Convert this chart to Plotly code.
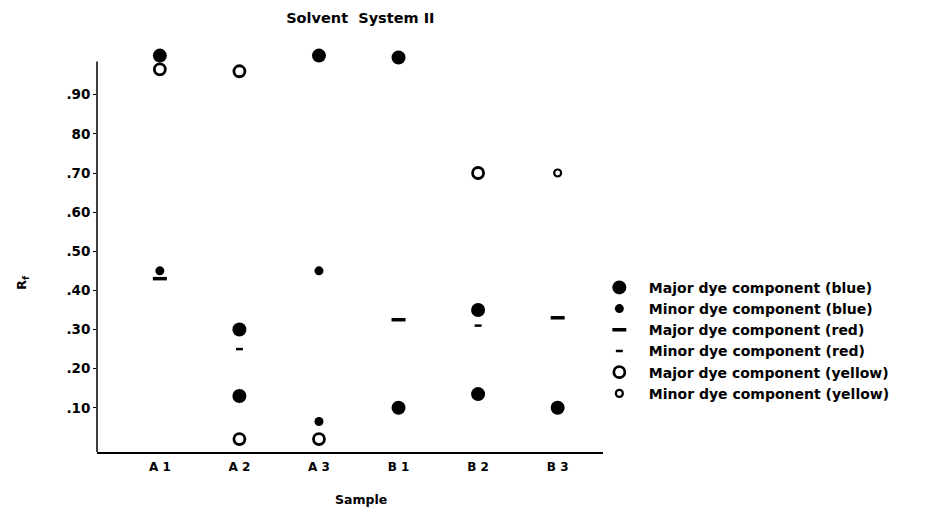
import plotly.graph_objects as go

samples = ["A1", "A2", "A3", "B1", "B2", "B3"]
sample_labels = ["A 1", "A 2", "A 3", "B 1", "B 2", "B 3"]

# Rf values per sample for each component type
major_blue_x = ["A1", "A2", "A2", "A3", "B1", "B1", "B2", "B2", "B3"]
major_blue_y = [1.00, 0.30, 0.13, 1.00, 0.995, 0.10, 0.35, 0.135, 0.10]

minor_blue_x = ["A1", "A3", "A3"]
minor_blue_y = [0.45, 0.45, 0.065]

major_red_x = ["A1", "B1", "B3"]
major_red_y = [0.43, 0.325, 0.33]

minor_red_x = ["A2", "B2"]
minor_red_y = [0.25, 0.31]

major_yellow_x = ["A1", "A2", "A2", "A3", "B2"]
major_yellow_y = [0.965, 0.96, 0.02, 0.02, 0.70]

minor_yellow_x = ["B3"]
minor_yellow_y = [0.70]

ytick_vals = [0.10, 0.20, 0.30, 0.40, 0.50, 0.60, 0.70, 0.80, 0.90]
ytick_text = [".10", ".20", ".30", ".40", ".50", ".60", ".70", "80", ".90"]

FONT = "DejaVu Sans"
BLACK = "black"

fig = go.Figure()

def add(name, xs, ys, symbol, size, line_w=0):
    fig.add_trace(go.Scatter(
        x=xs, y=ys, mode="markers", name="<b>%s</b>" % name, cliponaxis=False,
        marker=dict(symbol=symbol, size=size, color=BLACK,
                    line=dict(color=BLACK, width=line_w)),
    ))

add("Major dye component (blue)", major_blue_x, major_blue_y, "circle", 14)
add("Minor dye component (blue)", minor_blue_x, minor_blue_y, "circle", 9)
add("Major dye component (red)", major_red_x, major_red_y, "line-ew", 10, 3.5)
add("Minor dye component (red)", minor_red_x, minor_red_y, "line-ew", 5, 2.5)
add("Major dye component (yellow)", major_yellow_x, major_yellow_y, "circle-open", 11, 2.8)
add("Minor dye component (yellow)", minor_yellow_x, minor_yellow_y, "circle-open", 7, 2.2)

fig.update_layout(
    width=937, height=510,
    margin=dict(l=89, r=342, t=39, b=66, autoexpand=False),
    paper_bgcolor="white", plot_bgcolor="white",
    font=dict(family=FONT, size=12, color=BLACK),
    title=dict(text="<b>Solvent  System II</b>", x=0.376, xanchor="center",
               y=0.98, yanchor="middle", font=dict(size=14.5, family=FONT)),
    showlegend=True,
    legend=dict(x=0.974, xanchor="left", y=0.445, yanchor="top",
                font=dict(size=14, family=FONT), itemsizing="trace",
                itemwidth=49, tracegroupgap=0, bgcolor="rgba(0,0,0,0)"),
    xaxis=dict(
        type="category", categoryorder="array", categoryarray=samples,
        range=[-0.79, 5.57], showgrid=False, zeroline=False, automargin=False,
        showline=True, linecolor=BLACK, linewidth=1.5,
        ticks="", tickfont=dict(size=12, family=FONT), ticklabelstandoff=3,
        tickvals=samples, ticktext=["<b>%s</b>" % s for s in sample_labels],
    ),
    yaxis=dict(
        range=[-0.013, 1.022], showgrid=False, zeroline=False, automargin=False,
        showline=False,
        ticks="outside", ticklen=3, tickcolor=BLACK,
        tickvals=ytick_vals, ticktext=["<b>%s</b>" % t for t in ytick_text],
        tickfont=dict(size=13.5, family=FONT),
    ),
    shapes=[dict(type="line", xref="paper", yref="y", x0=0, x1=0,
                 y0=-0.013, y1=0.985, line=dict(color=BLACK, width=1.5))],
    annotations=[
        dict(text="<b>R<sub>f</sub></b>", xref="paper", yref="y",
             x=-0.168, y=0.42, textangle=-90, showarrow=False,
             font=dict(size=13, family=FONT)),
        dict(text="<b>Sample</b>", xref="paper", yref="paper",
             x=0.522, y=-0.1185, yanchor="middle", showarrow=False,
             font=dict(size=12.5, family=FONT)),
    ],
)

fig.write_html("out.html")
